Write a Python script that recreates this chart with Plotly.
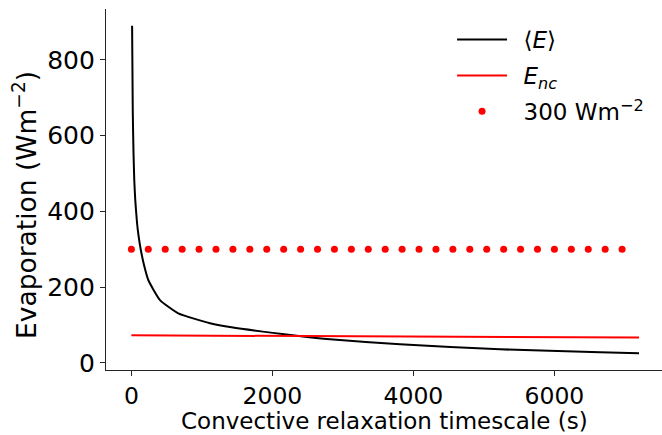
import plotly.graph_objects as go

# Mean evaporation <E> versus convective relaxation timescale (s, Wm^-2)
tau_mean = [10, 20, 30, 41, 55, 80, 100, 132, 180, 240, 406, 665, 1115, 1420,
            2345, 2817, 3810, 5228, 6647, 7200]
e_mean = [890, 660, 555, 483, 430, 370, 338, 300, 258, 219, 166, 131, 105, 94,
          72, 62.5, 49.3, 36.1, 28.2, 25.5]

# Non-convective evaporation E_nc
tau_nc = [0, 2400, 4800, 7200]
e_nc = [73, 70.5, 68.5, 67]

# Reference level of 300 Wm^-2
tau_ref = [i * 240 for i in range(30)]
e_ref = [300] * 30

FONT = "DejaVu Sans, Liberation Sans, sans-serif"
PAD = "\u2002"  # widens the gap between legend symbols and labels

fig = go.Figure()
fig.add_trace(go.Scatter(
    x=tau_mean, y=e_mean, mode="lines", name=PAD + "⟨<i>E</i>⟩",
    line=dict(color="black", width=2, shape="spline", smoothing=0.5),
    legendgroup="a",
))
fig.add_trace(go.Scatter(
    x=tau_nc, y=e_nc, mode="lines", name=PAD + "<i>E<sub>nc</sub></i>",
    line=dict(color="red", width=2),
    legendgroup="b",
))
fig.add_trace(go.Scatter(
    x=tau_ref, y=e_ref, mode="markers", name=PAD + "300 Wm<sup>−2</sup>",
    marker=dict(color="red", size=7),
    legendgroup="c",
))

axis_common = dict(
    showline=True, linecolor="#262626", linewidth=1.3,
    ticks="outside", ticklen=5, tickwidth=1.3, tickcolor="#262626",
    showgrid=False, zeroline=False, mirror=False,
)

fig.update_layout(
    width=662, height=435,
    margin=dict(l=106, r=0, t=9, b=65),
    paper_bgcolor="white", plot_bgcolor="white",
    font=dict(family=FONT, color="black"),
    xaxis=dict(
        range=[-360, 7526], tickvals=[0, 2000, 4000, 6000],
        tickfont=dict(family=FONT, size=23.5, color="black"),
        **axis_common,
    ),
    yaxis=dict(
        range=[-18.5, 934], tickvals=[0, 200, 400, 600, 800],
        tickfont=dict(family=FONT, size=25, color="black"),
        **axis_common,
    ),
    annotations=[
        dict(
            text="Evaporation (Wm<sup>−2</sup>)", textangle=-90,
            xref="paper", yref="paper", x=0, y=0.457, xshift=-81,
            xanchor="center", yanchor="middle", showarrow=False,
            font=dict(family=FONT, size=26.5, color="black"),
        ),
        dict(
            text="Convective relaxation timescale (s)",
            xref="paper", yref="paper", x=0.5, y=0, yshift=-65,
            xanchor="center", yanchor="bottom", showarrow=False,
            font=dict(family=FONT, size=23, color="black"),
            borderpad=0,
        ),
    ],
    legend=dict(
        x=0.6224, y=0.975, xanchor="left", yanchor="top",
        font=dict(family=FONT, size=23, color="black"),
        bgcolor="rgba(0,0,0,0)", traceorder="grouped",
        tracegroupgap=3, itemwidth=50,
    ),
)

fig.write_html("out.html")
